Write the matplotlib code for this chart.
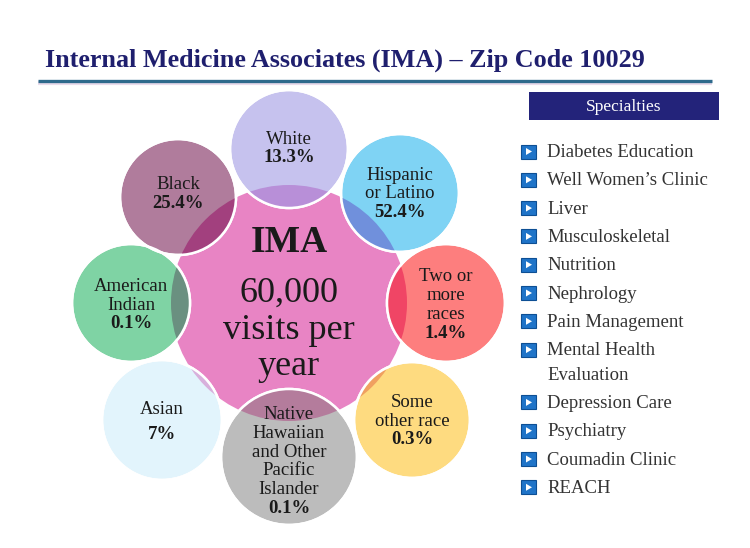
import matplotlib.pyplot as plt
from matplotlib.patches import Circle, Rectangle, Polygon

GROUPS = [
    "White",
    "Hispanic\nor Latino",
    "Two or\nmore\nraces",
    "Some\nother race",
    "Native\nHawaiian\nand Other\nPacific\nIslander",
    "Asian",
    "American\nIndian",
    "Black",
]
SHARES = [13.3, 52.4, 1.4, 0.3, 0.1, 7, 0.1, 25.4]

SPECIALTIES = [
    "Diabetes Education",
    "Well Women\u2019s Clinic",
    "Liver",
    "Musculoskeletal",
    "Nutrition",
    "Nephrology",
    "Pain Management",
    "Mental Health\nEvaluation",
    "Depression Care",
    "Psychiatry",
    "Coumadin Clinic",
    "REACH",
]

CLINIC = "IMA"
VISITS = 60000
TITLE = "Internal Medicine Associates (IMA) \u2013 Zip Code 10029"

# styling / layout
FILL = ["#c6c2ee", "#7fd3f4", "#fd7e7e", "#fedb80",
        "#bcbcbc", "#e2f4fc", "#7fd3a4", "#b07c9c"]
LENS = ["#b88fd8", "#7090dc", "#f04565", "#f0a060",
        "#b47c9c", "#d8b0dc", "#6a9080", "#a2407e"]
OFFSETS = [(0, -154), (111, -110), (157, 0), (123, 117),
           (0, 154), (-127, 117), (-158, 0), (-111, -106)]
RADII = [59, 59, 59, 58, 68, 60, 59, 58]
TEXT_DY = [-0.5, 1, 2, 1, 4.5, 2, 2, -3]
LINE_STEP = [18.7, 18.7, 18.7, 18.7, 18.7, 25, 18.7, 18.7]
HUB = (289, 303)
HUB_R = 118
SERIF = "Liberation Serif"
INK = "#1a1a1a"

fig = plt.figure(figsize=(7.5, 5.48), dpi=100)
ax = fig.add_axes([0, 0, 1, 1])
ax.set_xlim(0, 750)
ax.set_ylim(548, 0)
ax.axis("off")

# title and rule
ax.text(45, 67, TITLE, fontsize=18.8, fontweight="bold", family=SERIF,
        color="#1f1f6e", ha="left", va="baseline")
ax.plot([38, 712], [82.5, 82.5], color="#eadcec", lw=3, solid_capstyle="butt")
ax.plot([38, 712], [80.5, 80.5], color="#2e6a8c", lw=2.4, solid_capstyle="butt")

# hub
hub = Circle(HUB, HUB_R, fc="#e884c4", ec="none", zorder=1)
ax.add_patch(hub)

for i, (label, share) in enumerate(zip(GROUPS, SHARES)):
    cx, cy = HUB[0] + OFFSETS[i][0], HUB[1] + OFFSETS[i][1]
    r = RADII[i]
    ax.add_patch(Circle((cx, cy), r, fc=FILL[i], ec="white", lw=1.8, zorder=2))
    lens = Circle((cx, cy), r, fc=LENS[i], ec="none", zorder=3)
    ax.add_patch(lens)
    lens.set_clip_path(hub)
    ax.add_patch(Circle((cx, cy), r, fc="none", ec="white", lw=1.8, zorder=4))

    lines = label.split("\n") + [f"{share:g}%"]
    n = len(lines)
    for k, line in enumerate(lines):
        y = cy + TEXT_DY[i] + (k - (n - 1) / 2) * LINE_STEP[i]
        ax.text(cx, y, line, fontsize=13.5, family=SERIF, color=INK,
                fontweight="bold" if k == n - 1 else "normal",
                ha="center", va="center", zorder=6)

# hub text
ax.text(HUB[0], 252, CLINIC, fontsize=27, fontweight="bold", family=SERIF,
        color=INK, ha="center", va="baseline", zorder=6)
hub_lines = [f"{VISITS:,}", "visits per", "year"]
for k, line in enumerate(hub_lines):
    ax.text(HUB[0], 302 + k * 36.6, line, fontsize=26, family=SERIF,
            color=INK, ha="center", va="baseline", zorder=6)

# specialties panel
ax.add_patch(Rectangle((529, 92), 190, 28, fc="#23237a", ec="none"))
ax.text(624, 107, "Specialties", fontsize=12.5, family=SERIF, color="white",
        ha="center", va="center")

y = 150
for item in SPECIALTIES:
    ax.add_patch(Rectangle((521, y - 5.5), 15, 14, fc="#1f74c8",
                           ec="#0d4f94", lw=0.8))
    ax.add_patch(Polygon([(526, y - 2), (526, y + 5), (532, y + 1.5)],
                         closed=True, fc="white", ec="none"))
    parts = item.split("\n")
    for j, part in enumerate(parts):
        ax.text(547, y + 2.5 + j * 24.5, part, fontsize=13.5, family=SERIF,
                color="#333333", ha="left", va="center")
    y += 28.3 + (len(parts) - 1) * 24.5

fig.savefig("out.png", dpi=100)
